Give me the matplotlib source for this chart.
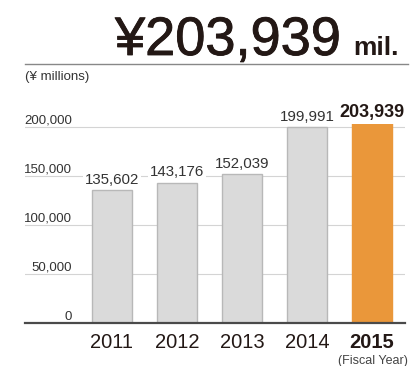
import matplotlib
matplotlib.use('Agg')
import matplotlib.pyplot as plt
import matplotlib.patheffects as pe
from matplotlib.lines import Line2D

# Net sales by fiscal year (¥ millions)
years = ['2011', '2012', '2013', '2014', '2015']
sales = [135602, 143176, 152039, 199991, 203939]
yticks = [0, 50000, 100000, 150000, 200000]

GRAY = '#dadada'
GRAY_EDGE = '#b8b8b8'
ORANGE = '#ea973a'
INK = '#231815'

plt.rcParams['font.family'] = ['Liberation Sans', 'DejaVu Sans']

W, H = 411, 366
fig = plt.figure(figsize=(W / 100, H / 100), dpi=100)
ax = fig.add_axes([25 / W, 43 / H, 380 / W, 215.6 / H])

x = list(range(len(years)))
colors = [GRAY] * (len(years) - 1) + [ORANGE]
edges = [GRAY_EDGE] * (len(years) - 1) + [ORANGE]
ax.bar(x, sales, width=0.615, color=colors, edgecolor=edges, linewidth=1, zorder=2)

ax.set_xlim(-1.338, 4.508)
ax.set_ylim(0, 220000)

# horizontal grid, baseline as the bottom spine
ax.set_yticks(yticks)
ax.set_yticklabels([])
ax.tick_params(axis='y', length=0)
ax.grid(axis='y', color='#d4d4d4', linewidth=0.8, zorder=0)
ax.set_axisbelow(True)
for s in ['top', 'right', 'left']:
    ax.spines[s].set_visible(False)
ax.spines['bottom'].set_color('#4a4a4a')
ax.spines['bottom'].set_linewidth(1.6)

# y tick labels sit just above their gridlines
ytr = ax.get_yaxis_transform()
for t in yticks:
    ax.annotate(f'{t:,}', xy=(0.1237, t), xycoords=ytr, xytext=(0, 2.5),
                textcoords='offset points', ha='right', va='baseline',
                fontsize=9.5, color='#333333')

# x tick labels, last year in bold
ax.set_xticks(x)
ax.set_xticklabels(years, fontsize=14.5, color=INK)
ax.tick_params(axis='x', length=0, pad=7)
ax.get_xticklabels()[-1].set_fontweight('bold')

# value labels above bars
for i, v in enumerate(sales):
    last = i == len(sales) - 1
    ax.annotate(f'{v:,}', xy=(i, v), xytext=(0, 4.5), textcoords='offset points',
                ha='center', va='baseline',
                fontsize=13 if last else 10.8,
                fontweight='bold' if last else 'normal',
                color=INK if last else '#333333', zorder=3,
                bbox=dict(boxstyle='square,pad=0.15', fc='white', ec='none'))

# headline figure and rule (regular face, slightly thickened)
fig.text(115 / W, 1 - 55 / H, f'¥{sales[-1]:,}', ha='left', va='baseline',
         fontsize=39, color=INK,
         path_effects=[pe.withStroke(linewidth=0.6, foreground=INK)])
fig.text(353 / W, 1 - 55 / H, 'mil.', ha='left', va='baseline',
         fontsize=19, fontweight='bold', color=INK)
fig.add_artist(Line2D([25 / W, 408 / W], [1 - 64 / H, 1 - 64 / H],
                      color='#888888', linewidth=1))

fig.text(25 / W, 1 - 77 / H, '(¥ millions)', ha='left', va='center',
         fontsize=9.5, color='#333333')
fig.text(408 / W, 1 - 361 / H, '(Fiscal Year)', ha='right', va='center',
         fontsize=9, color='#444444')

fig.savefig('out.png', dpi=100)
